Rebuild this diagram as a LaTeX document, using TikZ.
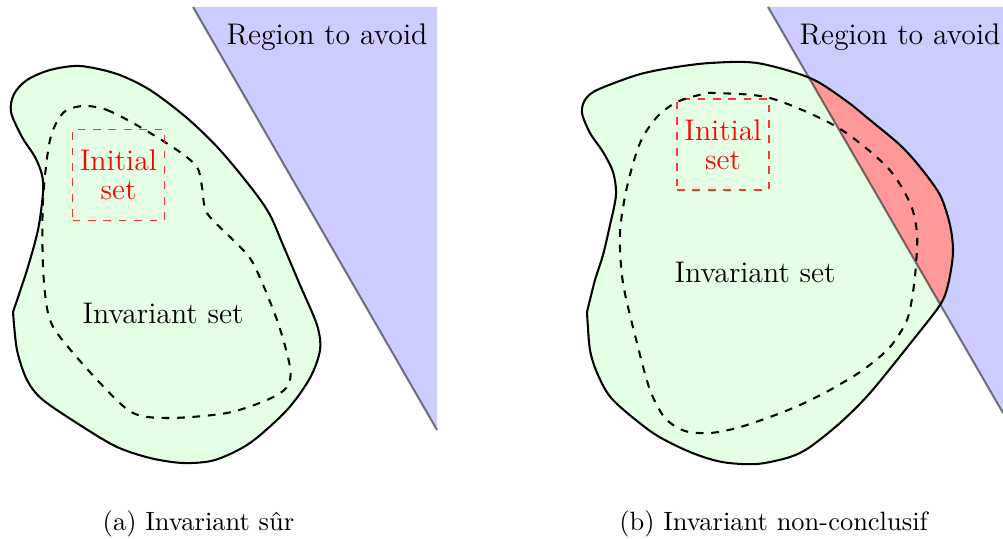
\documentclass[tikz,border=0pt]{standalone}
\usetikzlibrary{calc}
\newlength{\pxu}
\setlength{\pxu}{0.389pt}
\newcommand{\pictfont}{\fontsize{11.6}{11.4}\selectfont}
\newcommand{\capfont}{\fontsize{10.3}{12}\selectfont}
\tikzset{
  avoidfill/.style={fill=blue!20},
  avoidedge/.style={draw=black, draw opacity=0.5, thick},
  invfill/.style={fill=green!10},
  invedge/.style={draw=black, thick},
  innerset/.style={draw=black, thick, dashed},
  initbox/.style={color=red!80, draw=red!80, line width=0.55pt, dashed, text=red, minimum width=92\pxu, minimum height=91\pxu, inner sep=0pt, align=center, font=\pictfont},
  lbl/.style={font=\pictfont, inner sep=0pt},
  captxt/.style={font=\capfont, inner sep=0pt},
}
\begin{document}
\begin{tikzpicture}[x=0.389pt, y=-0.389pt]
\useasboundingbox (0,0) rectangle (1003,539);
% ---------------- (a) ----------------
\def\outerA{plot[smooth] coordinates {(13,312) (27,270) (38,230) (43,193) (42,175) (35,157) (22,137) (11,112) (14,94) (27,80) (50,70) (80,66) (117,74) (150,90) (187,118) (220,150) (253,190) (270,215) (283,245) (300,285) (317,325) (320,350) (310,378) (287,410) (250,443) (215,460) (183,463) (150,458) (117,447) (83,427) (43,400) (27,380) (17,350) (13,312)} -- cycle}
\coordinate (a1) at (193,7);
\coordinate (a2) at (437,7);
\coordinate (a3) at (437,430);
\fill[avoidfill] (a1) -- (a2) -- (a3) -- cycle;
\draw[avoidedge] (a1) -- (a3);
\path[invfill] \outerA;
\draw[invedge] \outerA;
\draw[innerset] plot[smooth cycle] coordinates {(83,106) (107,110) (140,127) (177,150) (197,167) (202,187) (207,213) (233,240) (253,263) (277,320) (290,367) (287,387) (267,400) (227,413) (170,418) (133,413) (100,383) (60,337) (48,313) (43,267) (43,200) (50,140) (63,113)};
\node[initbox] (initA) at (118.5,175) {Initial\\set};
\node[lbl] (avoidA) at (327,37) {Region to avoid};
\node[lbl] (invA) at (163,313) {Invariant set};
\node[captxt] (capA) at (198.5,524) {(a) Invariant sûr};
% ---------------- (b) ----------------
\def\outerB{plot[smooth] coordinates {(587,312) (595,280) (603,255) (610,225) (616,195) (613,172) (603,152) (590,133) (582,113) (585,100) (597,90) (637,75) (670,68) (710,63) (757,63) (810,78) (845,100) (870,120) (900,145) (920,167) (940,195) (950,225) (953,253) (948,285) (940,305) (913,340) (870,393) (840,423) (810,447) (790,457) (757,464) (722,462) (690,452) (653,433) (613,400) (598,375) (590,350) (587,312)} -- cycle}
\coordinate (b1) at (768,7);
\coordinate (b2) at (1003,7);
\coordinate (b3) at (1003,413);
\fill[avoidfill] (b1) -- (b2) -- (b3) -- cycle;
\path[invfill] \outerB;
\node[initbox] (initB) at (723,144.5) {Initial\\set};
\begin{scope}
  \clip (b1) -- (b2) -- (b3) -- cycle;
  \fill[red!40] \outerB;
\end{scope}
\draw[avoidedge] (b1) -- (b3);
\draw[invedge] \outerB;
\draw[innerset] plot[smooth cycle] coordinates {(713,93) (770,98) (837,127) (887,167) (910,203) (917,233) (916,265) (913,292) (907,320) (890,347) (863,370) (830,390) (800,405) (770,417) (737,428) (710,433) (685,431) (665,418) (650,390) (637,343) (623,283) (620,233) (627,187) (640,143) (657,117) (677,102) (703,94)};
\node[lbl] (avoidB) at (900,37) {Region to avoid};
\node[lbl] (invB) at (755,272) {Invariant set};
\node[captxt] (capB) at (773.5,524) {(b) Invariant non-conclusif};
\end{tikzpicture}
\end{document}
